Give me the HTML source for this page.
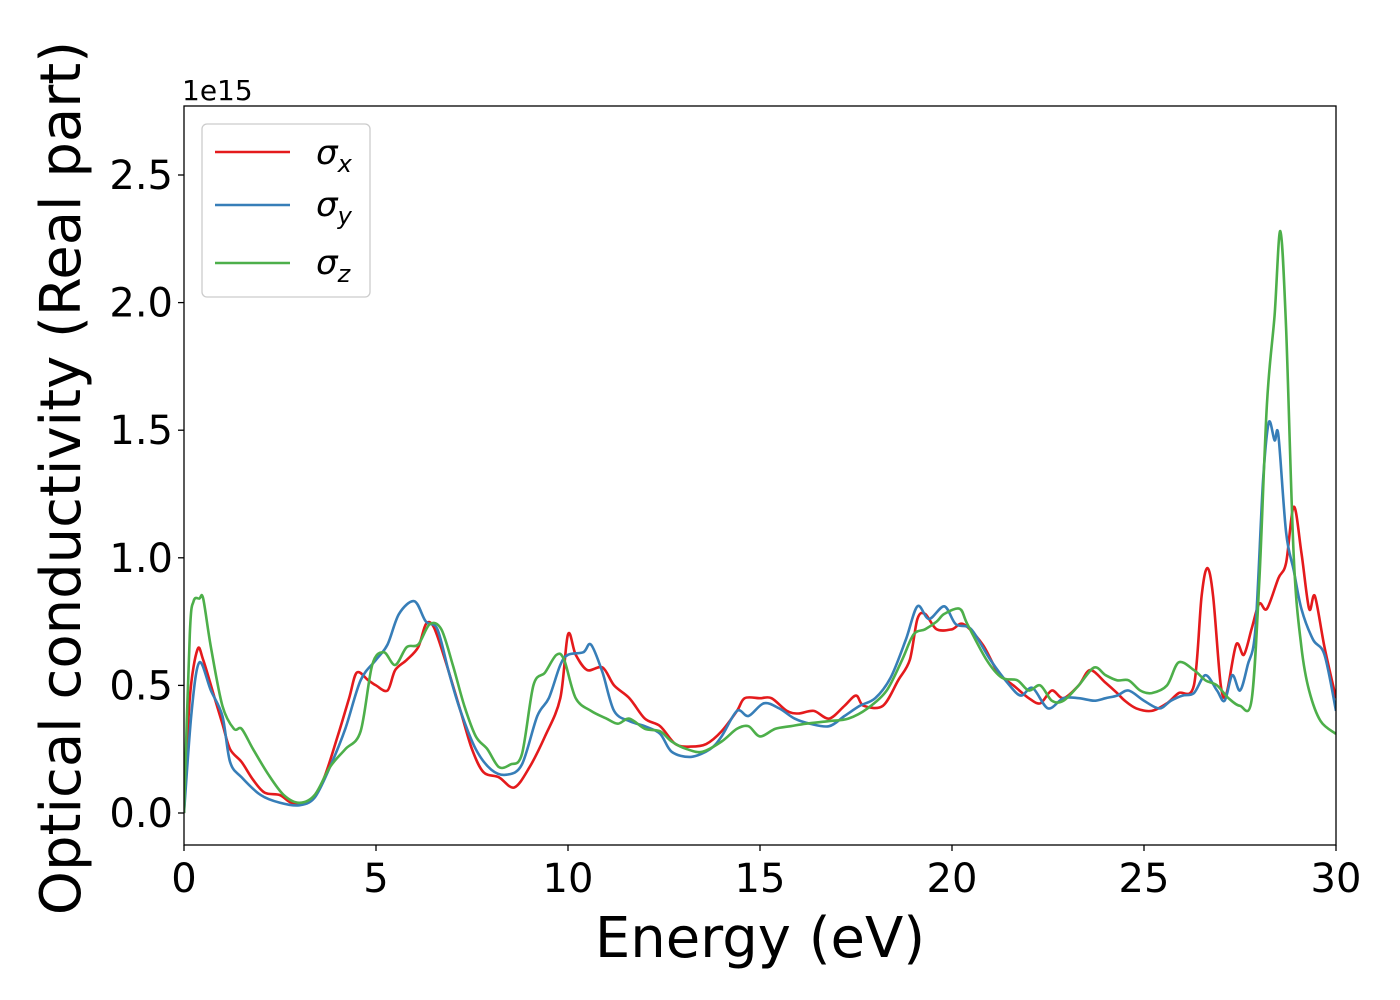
<!DOCTYPE html>
<html><head><meta charset="utf-8"><style>
html,body{margin:0;padding:0;background:#fff;width:1400px;height:1000px;overflow:hidden}
svg text{font-family:"DejaVu Sans","Liberation Sans",sans-serif;fill:#000}
</style></head><body>
<svg id="chart" width="1400" height="1000" xmlns="http://www.w3.org/2000/svg">
<g id="plot"></g>
</svg>
<script>
const xTicks=[0,5,10,15,20,25,30];
const yTicks=[0.0,0.5,1.0,1.5,2.0,2.5];
const yTickLabels=["0.0","0.5","1.0","1.5","2.0","2.5"];
const seriesNames=["σx","σy","σz"];
const sxE=[0,0.15,0.35,0.5,0.8,1.0,1.2,1.5,1.8,2.1,2.5,2.8,3.2,3.6,4.0,4.3,4.5,4.8,5.0,5.3,5.5,5.8,6.1,6.3,6.5,6.8,7.2,7.5,7.8,8.2,8.6,9.0,9.4,9.8,10.0,10.2,10.5,10.9,11.2,11.6,12.0,12.4,12.8,13.2,13.6,14.0,14.4,14.6,15.0,15.3,15.7,16.0,16.4,16.8,17.2,17.5,17.7,18.2,18.6,18.9,19.1,19.3,19.6,20.0,20.3,20.8,21.2,21.6,22.0,22.3,22.6,22.9,23.3,23.6,24.0,24.3,24.5,24.8,25.2,25.6,25.9,26.3,26.5,26.65,26.8,27.0,27.15,27.4,27.6,27.8,28.0,28.2,28.5,28.7,28.9,29.1,29.3,29.45,29.7,30];
const sxV=[0,0.45,0.64,0.6,0.45,0.35,0.25,0.2,0.13,0.08,0.07,0.04,0.04,0.12,0.3,0.45,0.55,0.52,0.5,0.48,0.56,0.6,0.65,0.74,0.73,0.6,0.4,0.25,0.16,0.14,0.1,0.18,0.3,0.45,0.7,0.62,0.56,0.57,0.5,0.45,0.37,0.34,0.27,0.26,0.27,0.32,0.4,0.45,0.45,0.45,0.4,0.39,0.4,0.37,0.42,0.46,0.42,0.42,0.52,0.6,0.76,0.78,0.72,0.72,0.74,0.66,0.55,0.5,0.45,0.43,0.48,0.45,0.5,0.56,0.51,0.47,0.44,0.41,0.4,0.43,0.47,0.5,0.85,0.96,0.85,0.5,0.47,0.66,0.62,0.72,0.82,0.8,0.92,0.98,1.2,1.02,0.8,0.85,0.65,0.45];
const syE=[0,0.2,0.4,0.7,1.0,1.2,1.5,2.0,2.5,3.0,3.4,3.8,4.2,4.6,5.0,5.3,5.6,6.0,6.3,6.6,6.9,7.2,7.6,8.0,8.4,8.8,9.2,9.5,9.8,10.0,10.4,10.6,10.9,11.2,11.6,12.0,12.4,12.7,13.2,13.7,14.0,14.4,14.7,15.1,15.5,15.9,16.3,16.8,17.2,17.6,18.0,18.4,18.8,19.1,19.4,19.8,20.1,20.5,21.0,21.5,21.8,22.1,22.5,22.9,23.3,23.7,24.0,24.3,24.6,25.0,25.4,25.7,26.0,26.3,26.6,26.9,27.1,27.3,27.5,27.7,27.9,28.1,28.25,28.4,28.5,28.7,28.9,29.1,29.4,29.7,30];
const syV=[0,0.4,0.59,0.48,0.38,0.2,0.14,0.07,0.04,0.03,0.06,0.18,0.33,0.52,0.6,0.66,0.78,0.83,0.75,0.72,0.55,0.4,0.25,0.17,0.15,0.19,0.38,0.45,0.58,0.62,0.63,0.66,0.55,0.4,0.36,0.34,0.31,0.24,0.22,0.25,0.3,0.4,0.38,0.43,0.41,0.37,0.35,0.34,0.38,0.42,0.45,0.53,0.68,0.81,0.76,0.81,0.74,0.72,0.6,0.5,0.46,0.49,0.41,0.45,0.45,0.44,0.45,0.46,0.48,0.44,0.41,0.44,0.46,0.47,0.54,0.48,0.44,0.54,0.48,0.58,0.72,1.3,1.53,1.46,1.48,1.1,0.95,0.8,0.68,0.62,0.4];
const szE=[0,0.15,0.25,0.4,0.5,0.7,1.0,1.3,1.5,1.8,2.2,2.6,3.0,3.4,3.8,4.2,4.6,4.9,5.2,5.5,5.8,6.1,6.4,6.7,7.0,7.3,7.6,7.9,8.2,8.5,8.8,9.1,9.4,9.7,9.9,10.2,10.6,11.0,11.3,11.6,12.0,12.4,12.7,13.1,13.5,14.0,14.4,14.7,15.0,15.4,15.8,16.2,16.8,17.3,17.8,18.3,18.7,19.0,19.3,19.6,19.8,20.2,20.4,20.9,21.3,21.7,22.0,22.3,22.6,22.9,23.3,23.7,24.0,24.3,24.6,24.9,25.2,25.6,25.9,26.3,26.6,26.9,27.2,27.5,27.8,28.0,28.2,28.4,28.55,28.7,28.9,29.1,29.3,29.6,30];
const szV=[0,0.7,0.83,0.84,0.84,0.65,0.42,0.33,0.33,0.25,0.15,0.07,0.04,0.07,0.18,0.25,0.32,0.58,0.63,0.58,0.65,0.66,0.74,0.72,0.58,0.42,0.3,0.25,0.18,0.19,0.23,0.5,0.55,0.62,0.6,0.45,0.4,0.37,0.35,0.37,0.33,0.32,0.28,0.25,0.24,0.28,0.33,0.34,0.3,0.33,0.34,0.35,0.36,0.37,0.41,0.48,0.6,0.7,0.72,0.75,0.78,0.8,0.74,0.6,0.53,0.52,0.48,0.5,0.44,0.44,0.5,0.57,0.54,0.52,0.52,0.48,0.47,0.5,0.59,0.56,0.52,0.5,0.45,0.42,0.44,0.9,1.6,1.95,2.28,1.9,1.0,0.65,0.48,0.36,0.31];

const L=184,R=1336,T=106,B=845;
const X=e=>L+(e-0)/(30-0)*(R-L);
const Y=v=>813-v*255.2;
const NS="http://www.w3.org/2000/svg";
const g=document.getElementById('plot');
function mk(tag,at,parent){const el=document.createElementNS(NS,tag);for(const k in at)el.setAttribute(k,at[k]);(parent||g).appendChild(el);return el;}
function path(E,V){
  const p=E.map((e,i)=>[X(e),Y(V[i])]);
  let d="M"+p[0][0].toFixed(1)+","+p[0][1].toFixed(1);
  for(let i=0;i<p.length-1;i++){
    const p0=p[Math.max(0,i-1)],p1=p[i],p2=p[i+1],p3=p[Math.min(p.length-1,i+2)];
    const t=0.16;
    const c1=[p1[0]+(p2[0]-p0[0])*t,p1[1]+(p2[1]-p0[1])*t];
    const c2=[p2[0]-(p3[0]-p1[0])*t,p2[1]-(p3[1]-p1[1])*t];
    d+=` C${c1[0].toFixed(1)},${c1[1].toFixed(1)} ${c2[0].toFixed(1)},${c2[1].toFixed(1)} ${p2[0].toFixed(1)},${p2[1].toFixed(1)}`;
  }
  return d;
}
const defs=mk('defs',{});
const cp=mk('clipPath',{id:'clip'},defs);
mk('rect',{x:L,y:T,width:R-L,height:B-T},cp);
const colors=["#e41a1c","#377eb8","#4daf4a"];
const data=[[sxE,sxV],[syE,syV],[szE,szV]];
const lineNames=['sigma-x-line','sigma-y-line','sigma-z-line'];
data.forEach((s,i)=>{
  const el=mk('path',{d:path(s[0],s[1]),fill:'none',stroke:colors[i],'stroke-width':2.6,'clip-path':'url(#clip)','stroke-linejoin':'round'});
  
  
});
const frame=mk('rect',{x:L,y:T,width:R-L,height:B-T,fill:'none',stroke:'#000','stroke-width':1.3});


xTicks.forEach(t=>{
  const tk=mk('line',{x1:X(t),x2:X(t),y1:B,y2:B+6,stroke:'#000','stroke-width':1.3});
  
  
  const tx=mk('text',{x:X(t),y:B+47,'text-anchor':'middle','font-size':40});
  tx.textContent=t;
  
  
});
yTicks.forEach((t,i)=>{
  const tk=mk('line',{x1:L-6,x2:L,y1:Y(t),y2:Y(t),stroke:'#000','stroke-width':1.3});
  
  
  const tx=mk('text',{x:L-11,y:Y(t)+14,'text-anchor':'end','font-size':40});
  tx.textContent=yTickLabels[i];
  
  
});
</script>
<svg style="position:absolute;left:0;top:0" width="1400" height="1000" xmlns="http://www.w3.org/2000/svg">
<text x="182" y="100" font-size="28">1e15</text>
<text x="760" y="957" text-anchor="middle" font-size="56">Energy (eV)</text>
<text transform="translate(80,478) rotate(-90)" text-anchor="middle" font-size="56">Optical conductivity (Real part)</text>
<g>
<rect x="202" y="124" width="168" height="173" rx="5" fill="#fff" fill-opacity="0.8" stroke="#ccc" stroke-width="1.3"/>
<line x1="215" x2="290" y1="152" y2="152" stroke="#e41a1c" stroke-width="2.6"/>
<text x="316" y="164" font-size="34" font-style="italic">σ<tspan font-size="24" dy="8">x</tspan></text>
<line x1="215" x2="290" y1="205" y2="205" stroke="#377eb8" stroke-width="2.6"/>
<text x="316" y="216" font-size="34" font-style="italic">σ<tspan font-size="24" dy="8">y</tspan></text>
<line x1="215" x2="290" y1="263" y2="263" stroke="#4daf4a" stroke-width="2.6"/>
<text x="316" y="274" font-size="34" font-style="italic">σ<tspan font-size="24" dy="8">z</tspan></text>
</g>
</svg>
</body></html>
